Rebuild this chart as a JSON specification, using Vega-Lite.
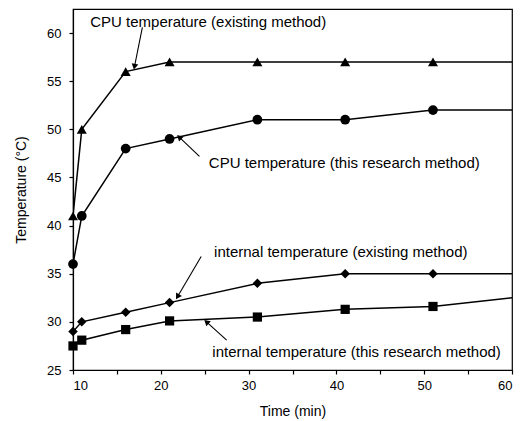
{
  "$schema": "https://vega.github.io/schema/vega-lite/v6.json",
  "width": 439,
  "height": 361,
  "autosize": {"type": "none"},
  "padding": {"left": 73, "top": 9, "right": 12, "bottom": 51},
  "background": "white",
  "config": {
    "font": "Liberation Sans",
    "view": {"stroke": "black", "strokeWidth": 1.2},
    "axis": {"domainColor": "black", "tickColor": "black", "labelColor": "black", "titleColor": "black", "grid": false, "labelFontSize": 13, "titleFontSize": 14, "titleFontWeight": "normal", "domainWidth": 1.2, "tickWidth": 1.2}
  },
  "datasets": {
    "series": [
      {"series": "cpu_exist", "time": 10, "temp": 41},
      {"series": "cpu_exist", "time": 11, "temp": 50},
      {"series": "cpu_exist", "time": 16, "temp": 56},
      {"series": "cpu_exist", "time": 21, "temp": 57},
      {"series": "cpu_exist", "time": 31, "temp": 57},
      {"series": "cpu_exist", "time": 41, "temp": 57},
      {"series": "cpu_exist", "time": 51, "temp": 57},
      {"series": "cpu_exist", "time": 60, "temp": 57},
      {"series": "cpu_research", "time": 10, "temp": 36},
      {"series": "cpu_research", "time": 11, "temp": 41},
      {"series": "cpu_research", "time": 16, "temp": 48},
      {"series": "cpu_research", "time": 21, "temp": 49},
      {"series": "cpu_research", "time": 31, "temp": 51},
      {"series": "cpu_research", "time": 41, "temp": 51},
      {"series": "cpu_research", "time": 51, "temp": 52},
      {"series": "cpu_research", "time": 60, "temp": 52},
      {"series": "int_exist", "time": 10, "temp": 29},
      {"series": "int_exist", "time": 11, "temp": 30},
      {"series": "int_exist", "time": 16, "temp": 31},
      {"series": "int_exist", "time": 21, "temp": 32},
      {"series": "int_exist", "time": 31, "temp": 34},
      {"series": "int_exist", "time": 41, "temp": 35},
      {"series": "int_exist", "time": 51, "temp": 35},
      {"series": "int_exist", "time": 60, "temp": 35},
      {"series": "int_research", "time": 10, "temp": 27.5},
      {"series": "int_research", "time": 11, "temp": 28.1},
      {"series": "int_research", "time": 16, "temp": 29.2},
      {"series": "int_research", "time": 21, "temp": 30.1},
      {"series": "int_research", "time": 31, "temp": 30.5},
      {"series": "int_research", "time": 41, "temp": 31.3},
      {"series": "int_research", "time": 51, "temp": 31.6},
      {"series": "int_research", "time": 60, "temp": 32.5}
    ],
    "labels": [
      {"label": "CPU temperature (existing method)", "x": 25.4, "y": 61.15},
      {"label": "CPU temperature (this research method)", "x": 40.9, "y": 46.5},
      {"label": "internal temperature (existing method)", "x": 40.5, "y": 37.3},
      {"label": "internal temperature (this research method)", "x": 42.3, "y": 26.9}
    ],
    "arrows": [
      {"x": 17.9, "y": 60.6, "x2": 17.0, "y2": 56.5, "angle": 191},
      {"x": 24.4, "y": 47.2, "x2": 22.1, "y2": 49.2, "angle": -46},
      {"x": 24.6, "y": 36.8, "x2": 21.9, "y2": 32.6, "angle": -149},
      {"x": 27.5, "y": 28.1, "x2": 25.2, "y2": 30.0, "angle": -48}
    ]
  },
  "layer": [
    {
      "data": {"name": "series"},
      "mark": {"type": "line", "color": "black", "strokeWidth": 1.5, "clip": true},
      "encoding": {
        "x": {"field": "time", "type": "quantitative", "scale": {"domain": [10, 60], "nice": false, "zero": false},
          "axis": {"title": "Time (min)", "values": [10, 15, 20, 25, 30, 35, 40, 45, 50, 55, 60], "labelExpr": "datum.value % 10 == 0 ? datum.label : ''", "tickSize": 4, "labelPadding": 5, "titlePadding": 12}},
        "y": {"field": "temp", "type": "quantitative", "scale": {"domain": [25, 62.5], "nice": false, "zero": false},
          "axis": {"title": "Temperature (°C)", "values": [25, 27.5, 30, 32.5, 35, 37.5, 40, 42.5, 45, 47.5, 50, 52.5, 55, 57.5, 60], "labelExpr": "datum.value % 5 == 0 ? datum.label : ''", "tickSize": 4, "labelPadding": 8, "titlePadding": 18}},
        "detail": {"field": "series"}
      }
    },
    {
      "data": {"name": "series"},
      "transform": [{"filter": "datum.time < 60"}],
      "mark": {"type": "point", "filled": true, "color": "black", "opacity": 1},
      "encoding": {
        "x": {"field": "time", "type": "quantitative"},
        "y": {"field": "temp", "type": "quantitative"},
        "shape": {"field": "series", "type": "nominal", "legend": null,
          "scale": {"domain": ["cpu_exist", "cpu_research", "int_exist", "int_research"], "range": ["triangle-up", "circle", "diamond", "square"]}},
        "size": {"field": "series", "type": "nominal", "legend": null,
          "scale": {"domain": ["cpu_exist", "cpu_research", "int_exist", "int_research"], "range": [100, 85, 110, 70]}}
      }
    },
    {
      "data": {"name": "labels"},
      "mark": {"type": "text", "fontSize": 15, "color": "black", "align": "center", "baseline": "middle"},
      "encoding": {
        "x": {"field": "x", "type": "quantitative"},
        "y": {"field": "y", "type": "quantitative"},
        "text": {"field": "label"}
      }
    },
    {
      "data": {"name": "arrows"},
      "mark": {"type": "rule", "color": "black", "strokeWidth": 1.1},
      "encoding": {
        "x": {"field": "x", "type": "quantitative"},
        "y": {"field": "y", "type": "quantitative"},
        "x2": {"field": "x2"},
        "y2": {"field": "y2"}
      }
    },
    {
      "data": {"name": "arrows"},
      "mark": {"type": "point", "shape": "triangle-up", "filled": true, "color": "black", "size": 45, "opacity": 1},
      "encoding": {
        "x": {"field": "x2", "type": "quantitative"},
        "y": {"field": "y2", "type": "quantitative"},
        "angle": {"field": "angle", "type": "quantitative", "scale": null}
      }
    }
  ]
}
